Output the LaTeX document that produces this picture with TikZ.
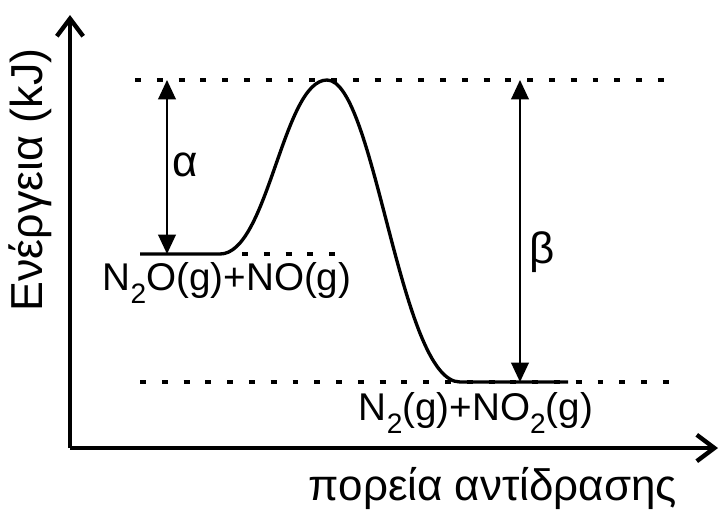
\documentclass[tikz,border=0pt]{standalone}
\usepackage{fontspec}
\setmainfont{Liberation Sans}
\usetikzlibrary{arrows.meta}
\newcommand{\lowsub}[1]{\raisebox{-0.36em}{\fontsize{16}{16}\selectfont #1}}
\begin{document}
\begin{tikzpicture}[x=0.02cm,y=-0.02cm,every node/.style={font=\fontsize{22}{25}\selectfont,inner sep=0pt},
    axis/.style={line width=2.5pt,-{Straight Barb[length=10pt,width=15pt,line width=2.5pt]}},
    level/.style={line width=1.9pt},
    guide/.style={line width=1.9pt,dash pattern=on 3.4pt off 9pt},
    gap/.style={line width=1.1pt,{Triangle[length=11pt,width=10pt]}-{Triangle[length=11pt,width=10pt]}}]
  \useasboundingbox (0,0) rectangle (721,511);

  % Coordinates
  \coordinate (o) at (70,448);
  \coordinate (ytip) at (70,15);
  \coordinate (xtip) at (718,448);
  \coordinate (peak) at (327,80);
  \coordinate (react) at (140,254);
  \coordinate (prod) at (568,382);
  \coordinate (alow) at (167,254);
  \coordinate (atop) at (167,80);
  \coordinate (blow) at (520,382);
  \coordinate (btop) at (520,80);

  % Labels
  \node[rotate=90] (ylab) at (30,180) {\fontsize{25.5}{28}\selectfont Ενέργεια (kJ)};
  \node[anchor=base] (xlab) at (493,500) {\fontsize{25}{28}\selectfont πορεία αντίδρασης};
  \node (reactlab) at (227,283) {N\lowsub{2}O(g)+NO(g)};
  \node (prodlab) at (476,413) {N\lowsub{2}(g)+NO\lowsub{2}(g)};
  \node (alab) at (185,165) {\fontsize{25}{28}\selectfont α};
  \node (blab) at (542,252) {\fontsize{25}{28}\selectfont β};

  % Guides
  \draw[guide] (135,80) -- (678,80);
  \draw[guide] (242,254) -- (337,254);
  \draw[guide] (140,382) -- (680,382);

  % Energy profile
  \draw[level] (react) -- (220,254) .. controls (268,254) and (283,80) .. (peak)
    .. controls (375,80) and (400,382) .. (460,382) -- (prod);

  % Axes
  \draw[axis] (o) -- (ytip);
  \draw[axis] (o) -- (xtip);

  % Energy differences
  \draw[gap] (atop) -- (alow);
  \draw[gap] (btop) -- (blow);

\end{tikzpicture}
\end{document}
